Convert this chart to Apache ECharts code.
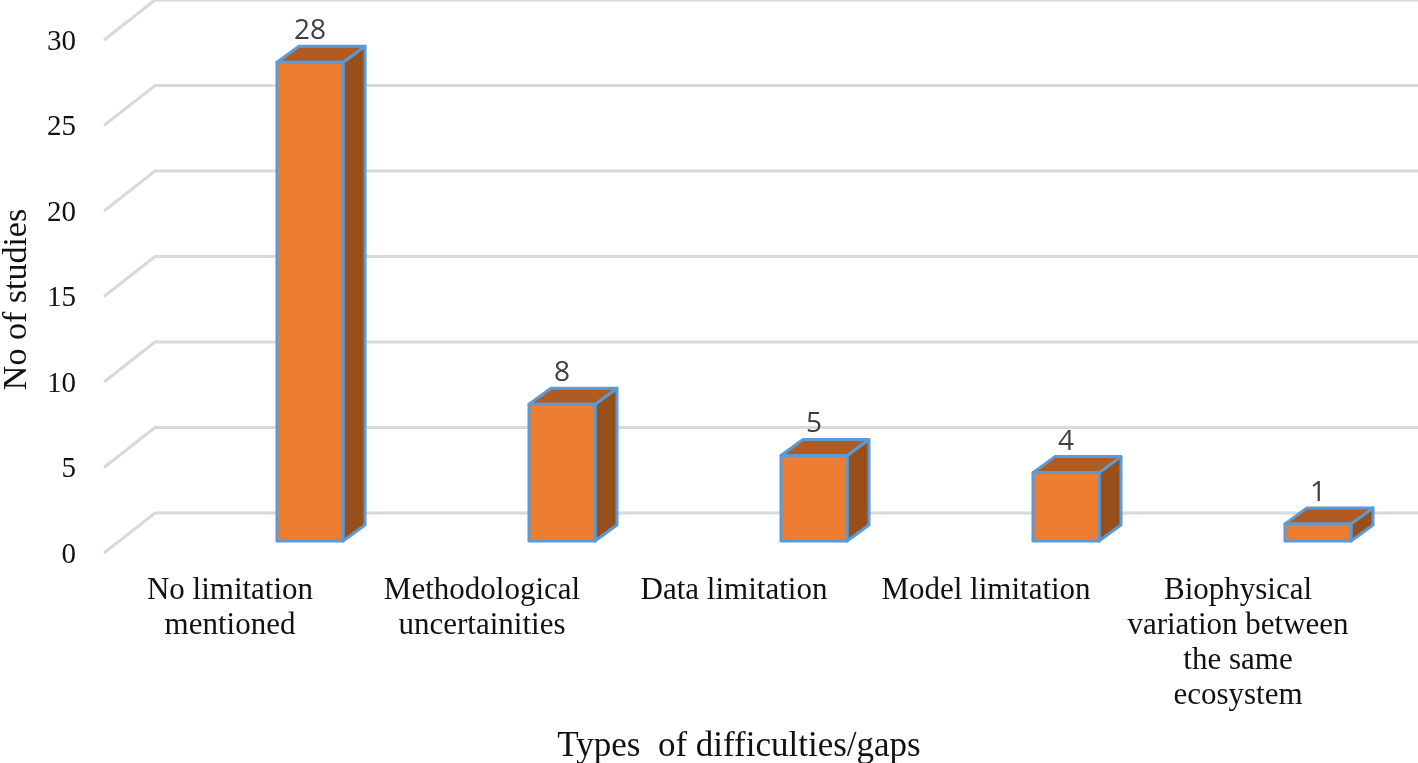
<!DOCTYPE html>
<html>
<head>
<meta charset="utf-8">
<style>html,body{margin:0;padding:0;background:#fff}#c{width:1418px;height:763px}</style>
<script src="https://cdn.jsdelivr.net/npm/echarts@6/dist/echarts.min.js"></script>
</head>
<body>
<div id="c"></div>
<script>
const categories = ['No limitation\nmentioned','Methodological\nuncertainities','Data limitation','Model limitation','Biophysical\nvariation between\nthe same\necosystem'];
const values = [28,8,5,4,1];
const ticks = [0,5,10,15,20,25,30];
const serif = '"Liberation Serif","Times New Roman",serif';

const chart = echarts.init(document.getElementById('c'), null, {renderer:'canvas'});
chart.setOption({
  animation:false,
  backgroundColor:'#fff',
  grid:{left:104,top:40,width:1260,height:513,containLabel:false,outerBoundsMode:'none'},
  xAxis:{
    type:'category',data:categories,
    axisLine:{show:false},axisTick:{show:false},splitLine:{show:false},
    axisLabel:{interval:0,margin:20,color:'#111',fontFamily:serif,fontSize:31,lineHeight:35,verticalAlign:'top'},
    name:'Types  of difficulties/gaps',nameLocation:'middle',nameGap:176,
    nameTextStyle:{color:'#111',fontFamily:serif,fontSize:35,padding:[0,0,0,10]}
  },
  yAxis:{
    type:'value',min:0,max:30,interval:5,
    axisLine:{show:false},axisTick:{show:false},splitLine:{show:false},
    axisLabel:{margin:28,color:'#111',fontFamily:serif,fontSize:29,verticalAlign:'top',lineHeight:4},
    name:'No of studies',nameLocation:'middle',nameGap:70,
    nameTextStyle:{color:'#111',fontFamily:serif,fontSize:34,padding:[0,6,0,0]}
  },
  series:[
    {
      type:'custom',clip:false,silent:true,z:1,
      data:ticks.map(t=>[0,t]),
      encode:{x:0,y:1},
      renderItem(params,api){
        const y=api.coord([0,api.value(1)])[1];
        const x=params.coordSys.x;
        return {type:'polyline',shape:{points:[[x,y],[x+51,y-40],[1418,y-40]]},
          style:{stroke:'#d9d9d9',lineWidth:3,fill:null}};
      }
    },
    {
      type:'custom',clip:false,silent:true,z:2,
      data:values.map((v,i)=>[i,v]),
      encode:{x:0,y:1},
      renderItem(params,api){
        const i=api.value(0), v=api.value(1);
        const top=api.coord([i,v]), base=api.coord([i,0]);
        const w=api.size([1,0])[0]*0.262;
        const sx=80, sy=-12, dx=22, dy=-16;
        const cx=top[0]+sx, l=cx-w/2, r=cx+w/2, t=top[1]+sy, b=base[1]+sy;
        const edge={stroke:'#5B9BD5',lineWidth:3,lineJoin:'round'};
        return {type:'group',children:[
          {type:'polygon',shape:{points:[[r,t],[r+dx,t+dy],[r+dx,b+dy],[r,b]]},style:{fill:'#97501C',...edge}},
          {type:'polygon',shape:{points:[[l,t],[l+dx,t+dy],[r+dx,t+dy],[r,t]]},style:{fill:'#B05B22',...edge}},
          {type:'rect',shape:{x:l,y:t,width:w,height:b-t},style:{fill:'#ED7D31',...edge}},
          {type:'text',style:{text:String(v),x:cx,y:t+dy-15,align:'center',verticalAlign:'middle',fill:'#404040',fontFamily:'"Open Sans",sans-serif',fontSize:28}}
        ]};
      }
    }
  ]
});
</script>
</body>
</html>
